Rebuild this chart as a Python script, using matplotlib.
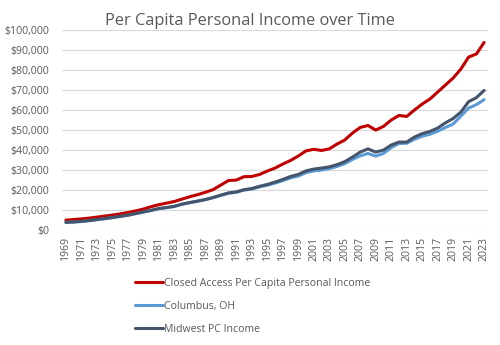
import matplotlib

matplotlib.use("Agg")
import matplotlib.pyplot as plt
from matplotlib.ticker import FuncFormatter, MultipleLocator

years = list(range(1969, 2024))

# rows of ten years: 1969-1978, 1979-1988, ..., 2019-2023
closed_access = [
    5000, 5300, 5600, 6000, 6500, 7000, 7500, 8100, 8800, 9600,
    10500, 11700, 12700, 13500, 14300, 15500, 16700, 17700, 18900, 20200,
    22500, 24800, 25000, 26700, 26800, 27800, 29500, 31000, 33000, 34800,
    37000, 39600, 40400, 39800, 40600, 43000, 45000, 48500, 51300, 52300,
    50000, 51800, 55000, 57300, 56800, 60000, 63000, 65500, 69000, 72500,
    76000, 80500, 86500, 88000, 93800,
]
columbus = [
    3800, 4000, 4300, 4700, 5200, 5700, 6200, 6800, 7400, 8200,
    9000, 9800, 10700, 11200, 11800, 12900, 13700, 14400, 15200, 16200,
    17300, 18400, 18900, 20000, 20500, 21600, 22400, 23500, 24700, 26100,
    27000, 28700, 29600, 30000, 30700, 31800, 33200, 35300, 37100, 38300,
    37000, 38300, 41200, 43300, 43400, 45400, 46900, 47900, 49400, 51300,
    53000, 57000, 61000, 62700, 65200,
]
midwest = [
    3900, 4100, 4400, 4800, 5300, 5800, 6300, 6900, 7500, 8300,
    9100, 9900, 10800, 11300, 11900, 13000, 13800, 14500, 15300, 16300,
    17500, 18600, 19100, 20200, 20800, 21900, 22800, 24000, 25300, 26800,
    27800, 29600, 30500, 31000, 31600, 32700, 34200, 36500, 39000, 40600,
    39000, 40000, 42500, 44000, 44000, 46500, 48200, 49300, 51000, 53600,
    55800, 59000, 64200, 66200, 69800,
]

series = [
    ("Closed Access Per Capita Personal Income", closed_access, "#C00000"),
    ("Columbus, OH", columbus, "#5B9BD5"),
    ("Midwest PC Income", midwest, "#44546A"),
]

plt.rcParams["font.family"] = ["Open Sans", "DejaVu Sans"]
GREY = "#595959"

fig = plt.figure(figsize=(5, 3.45), dpi=100)
ax = fig.add_axes([0.124, 0.333, 0.852, 0.58])

for name, vals, col in series:
    ax.plot(years, vals, color=col, lw=2.2, label=name, solid_capstyle="round")

ax.set_xlim(1968.5, 2023.5)
ax.set_ylim(0, 100000)
ax.yaxis.set_major_locator(MultipleLocator(10000))
ax.yaxis.set_major_formatter(FuncFormatter(lambda v, _: f"${v:,.0f}"))
ax.set_xticks(years[::2])
ax.tick_params(axis="x", labelrotation=90, labelsize=7.6, colors=GREY, length=0, pad=5)
ax.tick_params(axis="y", labelsize=7.6, colors=GREY, length=0, pad=9)
ax.grid(axis="y", color="#D9D9D9", lw=0.8)
ax.set_axisbelow(True)
for s in ax.spines.values():
    s.set_visible(False)

fig.suptitle("Per Capita Personal Income over Time", x=0.5, y=0.962,
             fontsize=11.8, color=GREY)

leg = fig.legend(loc="upper left", bbox_to_anchor=(0.262, 0.207), frameon=False,
                 fontsize=7.6, handlelength=2.6, handletextpad=0.1,
                 labelspacing=1.15, borderaxespad=0)
for t in leg.get_texts():
    t.set_color(GREY)

fig.savefig("out.png", dpi=100)
